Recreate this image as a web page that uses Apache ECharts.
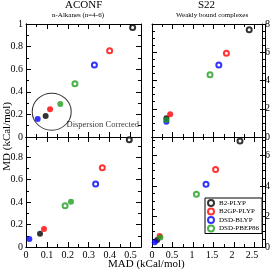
<!DOCTYPE html>
<html><head><meta charset="utf-8">
<script src="https://cdn.jsdelivr.net/npm/echarts@6/dist/echarts.min.js"></script>
<style>html,body{margin:0;padding:0;background:#fff}#c{width:273px;height:273px}</style>
</head><body><div id="c"></div>
<script>
// Methods (order: B2-PLYP, B2GP-PLYP, DSD-BLYP, DSD-PBEP86)
const methods = ["B2-PLYP", "B2GP-PLYP", "DSD-BLYP", "DSD-PBEP86"];
const colors = ["#000000", "#ff0000", "#0000ff", "#1f9e1f"];

// ACONF, top panel: open = plain, filled = dispersion corrected
const aconfTopMAD = [0.51, 0.40, 0.327, 0.234];
const aconfTopMD = [0.97, 0.764, 0.637, 0.472];
const aconfTopMAD_D = [0.094, 0.115, 0.056, 0.164];
const aconfTopMD_D = [0.186, 0.245, 0.159, 0.292];

// ACONF, bottom panel
const aconfBotMAD = [0.494, 0.365, 0.333, 0.187];
const aconfBotMD = [0.955, 0.707, 0.561, 0.368];
const aconfBotMAD_D = [0.067, 0.086, 0.016, 0.215];
const aconfBotMD_D = [0.119, 0.16, 0.071, 0.404];

// S22, top panel
const s22TopMAD = [2.43, 1.86, 1.67, 1.45];
const s22TopMD = [7.59, 5.93, 5.1, 4.4];
const s22TopMAD_D = [0.36, 0.455, 0.36, 0.36];
const s22TopMD_D = [1.33, 1.61, 1.08, 1.2];

// S22, bottom panel
const s22BotMAD = [2.2, 1.59, 1.35, 1.11];
const s22BotMD = [6.94, 5.08, 4.1, 3.45];
const s22BotMAD_D = [0.13, 0.19, 0.07, 0.21];
const s22BotMD_D = [0.46, 0.72, 0.31, 0.63];

// Axis ranges [min, max, interval]
const aconfX = [0, 0.55, 0.1];
const s22X = [0, 2.75, 0.5];
const aconfTopY = [0, 1, 0.2];
const aconfBotY = [0, 0.98, 0.2];
const s22TopY = [0, 8, 2];
const s22BotY = [0, 7.2, 2];

// Annotation
const circleCenter = [0.123, 0.224];
const annotText = "Dispersion Corrected";
const annotPos = [0.55, 0.106];

const FONT = "Liberation Serif";

const panelRects = [
  {left: 26, top: 24, width: 115, height: 113},
  {left: 152, top: 24, width: 113, height: 113},
  {left: 26, top: 137, width: 115, height: 110},
  {left: 152, top: 137, width: 113, height: 110}
];

const panelDefs = [
  {xr: aconfX, yr: aconfTopY, xLab: false, yPos: 'left', yHideMax: false, xm: 2, ym: 2},
  {xr: s22X, yr: s22TopY, xLab: false, yPos: 'right', yHideMax: false, xm: 2, ym: 4},
  {xr: aconfX, yr: aconfBotY, xLab: true, yPos: 'left', yHideMax: true, xm: 2, ym: 2},
  {xr: s22X, yr: s22BotY, xLab: true, yPos: 'right', yHideMax: true, xm: 2, ym: 4}
];

const LINE = {color: '#000', width: 1};

function labelAxis(gi, range, position, showLabel, hideMax) {
  return {
    type: 'value', gridIndex: gi, min: range[0], max: range[1], interval: range[2],
    position: position,
    axisLine: {show: true, onZero: false, lineStyle: LINE},
    axisTick: {show: false}, minorTick: {show: false},
    splitLine: {show: false},
    axisLabel: {show: showLabel, color: '#000', fontFamily: FONT, fontSize: 10, margin: 3,
      showMaxLabel: !hideMax, showMinLabel: true}
  };
}
// tick strip axis: split lines across a thin strip along a panel edge act as inward ticks
function stripAxis(gi, range, position, minorSplit, minor) {
  return {
    type: 'value', gridIndex: gi, min: range[0], max: range[1], interval: range[2],
    position: position,
    axisLine: {show: !minor, onZero: false, lineStyle: LINE},
    axisTick: {show: false},
    minorTick: {show: false, splitNumber: minorSplit},
    splitLine: {show: !minor, lineStyle: LINE},
    minorSplitLine: {show: minor, lineStyle: LINE},
    axisLabel: {show: false}
  };
}
function hiddenAxis(gi, range) {
  return {type: 'value', gridIndex: gi, min: range[0], max: range[1], show: false,
    splitLine: {show: false}};
}

const grids = [], xAxes = [], yAxes = [];
panelDefs.forEach((d, gi) => {
  grids.push(panelRects[gi]);
  xAxes.push(labelAxis(gi, d.xr, 'bottom', d.xLab, true));
  yAxes.push(labelAxis(gi, d.yr, d.yPos, true, d.yHideMax));
});

const MAJ = 5, MIN = 3;
panelDefs.forEach((d, p) => {
  const r = panelRects[p];
  [[MAJ, false], [MIN, true]].forEach(([len, minor]) => {
    let gi;
    // left edge
    gi = grids.length; grids.push({left: r.left, top: r.top, width: len, height: r.height});
    xAxes.push(hiddenAxis(gi, d.xr)); yAxes.push(stripAxis(gi, d.yr, 'left', d.ym, minor));
    // right edge
    gi = grids.length; grids.push({left: r.left + r.width - len, top: r.top, width: len, height: r.height});
    xAxes.push(hiddenAxis(gi, d.xr)); yAxes.push(stripAxis(gi, d.yr, 'right', d.ym, minor));
    // bottom edge
    gi = grids.length; grids.push({left: r.left, top: r.top + r.height - len, width: r.width, height: len});
    xAxes.push(stripAxis(gi, d.xr, 'bottom', d.xm, minor)); yAxes.push(hiddenAxis(gi, d.yr));
    // top edge
    gi = grids.length; grids.push({left: r.left, top: r.top, width: r.width, height: len});
    xAxes.push(stripAxis(gi, d.xr, 'top', d.xm, minor)); yAxes.push(hiddenAxis(gi, d.yr));
  });
});

const panels = [
  {x: aconfTopMAD, y: aconfTopMD, xd: aconfTopMAD_D, yd: aconfTopMD_D},
  {x: s22TopMAD, y: s22TopMD, xd: s22TopMAD_D, yd: s22TopMD_D},
  {x: aconfBotMAD, y: aconfBotMD, xd: aconfBotMAD_D, yd: aconfBotMD_D},
  {x: s22BotMAD, y: s22BotMD, xd: s22BotMAD_D, yd: s22BotMD_D}
];

const series = [];
panels.forEach((pn, p) => {
  methods.forEach((m, i) => {
    series.push({
      type: 'scatter', name: m, xAxisIndex: p, yAxisIndex: p,
      symbol: 'emptyCircle', symbolSize: 5,
      itemStyle: {color: colors[i], borderWidth: 1},
      data: [[pn.x[i], pn.y[i]]], z: 3
    });
  });
  methods.forEach((m, i) => {
    series.push({
      type: 'scatter', name: m + ' (D)', xAxisIndex: p, yAxisIndex: p,
      symbol: 'circle', symbolSize: 6,
      itemStyle: {color: colors[i]},
      data: [[pn.xd[i], pn.yd[i]]], z: 4
    });
  });
});

series.push({
  type: 'scatter', name: 'circle', xAxisIndex: 0, yAxisIndex: 0,
  symbol: 'circle', symbolSize: [39, 37], silent: true,
  itemStyle: {color: 'rgba(0,0,0,0)', borderColor: '#000', borderWidth: 1},
  data: [circleCenter], z: 2
});
series.push({
  type: 'scatter', name: 'annot', xAxisIndex: 0, yAxisIndex: 0,
  symbolSize: 0, silent: true,
  label: {show: true, position: 'left', distance: 2, formatter: annotText,
    color: '#000', fontFamily: FONT, fontSize: 8.5},
  data: [annotPos], z: 5
});

const chart = echarts.init(document.getElementById('c'), null, {renderer: 'canvas'});
chart.setOption({
  animation: false,
  backgroundColor: '#fff',
  grid: grids,
  xAxis: xAxes,
  yAxis: yAxes,
  legend: {
    data: methods, orient: 'vertical', left: 205, top: 198,
    padding: [1, 3, 1, 2], itemGap: 0.5, itemWidth: 6, itemHeight: 6,
    borderColor: '#000', borderWidth: 1, backgroundColor: '#fff',
    icon: 'emptyCircle', z: 10,
    textStyle: {fontFamily: FONT, fontSize: 7, color: '#000', lineHeight: 7.5}
  },
  graphic: [
    {type: 'text', style: {text: 'ACONF', font: '11px "Liberation Serif"', fill: '#000'}, left: 65, top: 0},
    {type: 'text', style: {text: 'n-Alkanes (n=4-6)', font: '7px "Liberation Serif"', fill: '#000'}, left: 52, top: 12},
    {type: 'text', style: {text: 'S22', font: '11px "Liberation Serif"', fill: '#000'}, left: 198, top: 0},
    {type: 'text', style: {text: 'Weakly bound complexes', font: '7px "Liberation Serif"', fill: '#000'}, left: 176, top: 12},
    {type: 'text', style: {text: 'MAD (kCal/mol)', font: '11px "Liberation Serif"', fill: '#000'}, left: 108, top: 259},
    {type: 'text', rotation: Math.PI / 2, style: {text: 'MD (kCal/mol)', font: '11px "Liberation Serif"', fill: '#000'}, left: 2, top: 102}
  ],
  series: series
});
</script></body></html>
